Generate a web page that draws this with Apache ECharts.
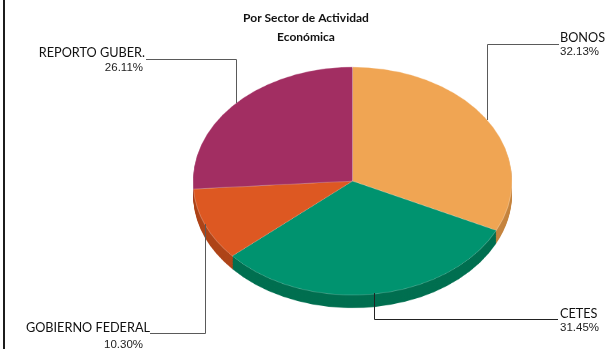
<!DOCTYPE html>
<html>
<head>
<meta charset="utf-8">
<script src="https://cdn.jsdelivr.net/npm/echarts@6/dist/echarts.min.js"></script>
<style>
  html, body { margin: 0; padding: 0; background: #fff; }
  #wrap { position: relative; width: 608px; height: 349px; overflow: hidden; }
  /* the pie is drawn round, then flattened into a tilted disc */
  #pie { position: absolute; left: 0; top: 0; width: 608px; height: 488px;
         transform: scaleY(0.715); transform-origin: 0 0; }
  #ann { position: absolute; left: 0; top: 0; width: 608px; height: 349px; }
</style>
</head>
<body>
<div id="wrap"><div id="pie"></div><div id="ann"></div></div>
<script>
// Portfolio split by economic sector (percent)
const categories = ['BONOS', 'CETES', 'GOBIERNO FEDERAL', 'REPORTO GUBER.'];
const shares = [32.13, 31.45, 10.30, 26.11];
const titleLines = ['Por Sector de Actividad', 'Económica'];

const topColors  = ['#F0A553', '#00936F', '#DD5822', '#A22E62'];
const sideColors = ['#C5843F', '#006F50', '#AE4418', '#7E2249'];

const TILT = 0.715;          // vertical squash of the disc
const CX = 352.5, CY = 181;  // disc centre on screen
const R = 159.5;             // horizontal radius
const DEPTH = 13;            // thickness of the disc on screen
const STEPS = 13;

const sliceData = (colors) => categories.map((name, i) => ({
  name, value: shares[i], itemStyle: { color: colors[i] }
}));

const pieSeries = [];
for (let k = STEPS; k >= 1; k--) {
  pieSeries.push({
    type: 'pie', silent: true, animation: false,
    center: [CX, (CY + DEPTH * k / STEPS) / TILT], radius: R,
    startAngle: 90, clockwise: true,
    label: { show: false }, labelLine: { show: false },
    itemStyle: { borderWidth: 0 },
    data: sliceData(sideColors)
  });
}
pieSeries.push({
  type: 'pie', silent: true, animation: false,
  center: [CX, CY / TILT], radius: R,
  startAngle: 90, clockwise: true,
  label: { show: false }, labelLine: { show: false },
  itemStyle: { borderColor: 'rgba(255,255,255,0.45)', borderWidth: 0.6 },
  data: sliceData(topColors)
});

const pieChart = echarts.init(document.getElementById('pie'), null, { renderer: 'canvas' });
pieChart.setOption({ animation: false, series: pieSeries });

// label placement for each slice: name/percent anchor and leader path
const labelLayout = [
  { align: 'left',  nx: 560, ny: 37.5, px: 560, py: 51.5, path: [[487.5, 120], [487.5, 44.5], [559, 44.5]], stroke: '#5a5a5a' },
  { align: 'left',  nx: 560, ny: 313.5, px: 560, py: 328, path: [[374.5, 293], [374.5, 319.5], [558, 319.5]], stroke: '#222' },
  { align: 'right', nx: 150, ny: 328, px: 143, py: 344.5, path: [[205.5, 224], [205.5, 333.5], [150, 333.5]], stroke: '#5a5a5a' },
  { align: 'right', nx: 145, ny: 53, px: 143, py: 68, path: [[236.5, 103], [236.5, 59.5], [146, 59.5]], stroke: '#5a5a5a' }
];

const graphics = [
  { type: 'rect', shape: { x: 3, y: 0, width: 2, height: 349 }, style: { fill: '#1c1c1c' } }
];
titleLines.forEach((t, i) => graphics.push({
  type: 'text', x: 306, y: 18 + i * 19.5,
  style: { text: t, fill: '#111', font: 'bold 12px Lato', align: 'center', verticalAlign: 'middle' }
}));
categories.forEach((name, i) => {
  const L = labelLayout[i];
  graphics.push({ type: 'polyline', shape: { points: L.path }, style: { stroke: L.stroke, lineWidth: 1, fill: null } });
  graphics.push({ type: 'text', x: L.nx, y: L.ny,
    style: { text: name, fill: '#111', font: '12.7px Lato', align: L.align, verticalAlign: 'middle' } });
  graphics.push({ type: 'text', x: L.px, y: L.py,
    style: { text: shares[i].toFixed(2) + '%', fill: '#222', font: '11.5px "Liberation Sans"', align: L.align, verticalAlign: 'middle' } });
});

const annChart = echarts.init(document.getElementById('ann'), null, { renderer: 'canvas' });
annChart.setOption({ animation: false, graphic: graphics });
</script>
</body>
</html>
